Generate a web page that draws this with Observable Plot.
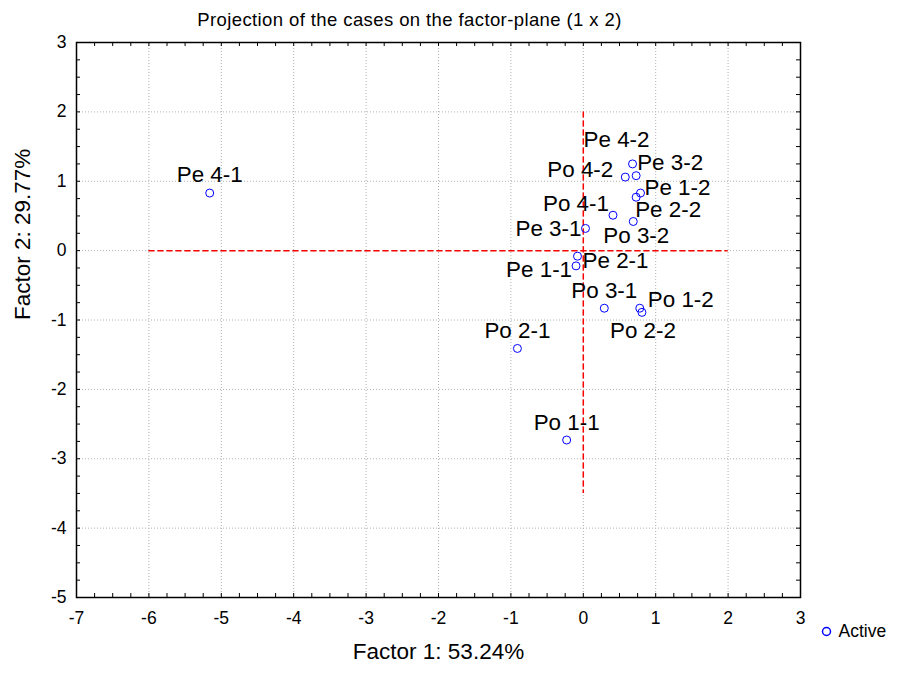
<!DOCTYPE html>
<html>
<head>
<meta charset="utf-8">
<script src="https://cdn.jsdelivr.net/npm/d3@7"></script>
<script src="https://cdn.jsdelivr.net/npm/@observablehq/plot@0.6"></script>
<style>
  html, body { margin: 0; padding: 0; background: #fff; }
  #chart { width: 907px; height: 675px; overflow: hidden; }
</style>
</head>
<body>
<div id="chart"></div>
<script>
// ---- data ----
const caseNames = ["Pe 4-1","Po 1-1","Po 2-1","Pe 4-2","Pe 3-2","Po 4-2","Pe 1-2","Pe 2-2",
                   "Po 4-1","Po 3-2","Pe 3-1","Pe 2-1","Pe 1-1","Po 3-1","Po 1-2","Po 2-2"];
const factor1 = [-5.16,-0.23,-0.91,0.68,0.73,0.58,0.79,0.73,0.41,0.69,0.03,-0.08,-0.10,0.29,0.78,0.81];
const factor2 = [0.83,-2.73,-1.41,1.25,1.08,1.06,0.83,0.77,0.51,0.42,0.32,-0.08,-0.22,-0.83,-0.83,-0.89];
const xTicks = [-7,-6,-5,-4,-3,-2,-1,0,1,2,3];
const yTicks = [-5,-4,-3,-2,-1,0,1,2,3];
const hRefLine = {y: 0, x1: -6, x2: 2};
const vRefLine = {x: 0, y1: 2, y2: -3.5};
const titleText = "Projection of the cases on the factor-plane (1 x 2)";
const xTitle = "Factor 1: 53.24%";
const yTitle = "Factor 2: 29.77%";
const legendLabel = "Active";

// ---- layout (label offsets in pixels, per case) ----
const labelOffsets = [[0,-18],[0,-17],[0,-18],[-16,-24],[34,-13],[-45,-7],[37,-5],[32,13],
                      [-37,-11],[3,14],[-37,0],[38,5],[-37,4],[0,-17],[41,-8],[1,18]];

const cases = caseNames.map((name, i) => ({
  name, x: factor1[i], y: factor2[i], dx: labelOffsets[i][0], dy: labelOffsets[i][1]
}));

const W = 907, H = 675;
const mL = 76, mR = 107, mT = 42, mB = 78;
const innerW = W - mL - mR, innerH = H - mT - mB;
const xMinor = d3.range(-7, 3.0001, 0.25);
const yMinor = d3.range(-5, 3.0001, 0.25);
const FONT = "'Liberation Sans', Arial, Helvetica, sans-serif";

const labelMarks = cases.map(c => Plot.text([c], {
  x: "x", y: "y", text: "name", dx: c.dx, dy: c.dy,
  fontSize: 22.4, fill: "#000", textAnchor: "middle", lineAnchor: "middle"
}));

const chart = Plot.plot({
  width: W, height: H,
  marginLeft: mL, marginRight: mR, marginTop: mT, marginBottom: mB,
  style: {fontFamily: FONT, background: "#fff", overflow: "visible"},
  x: {domain: [-7, 3]},
  y: {domain: [-5, 3]},
  marks: [
    Plot.gridX(xTicks, {stroke: "#b0b0b0", strokeOpacity: 1, strokeDasharray: "1,2"}),
    Plot.gridY(yTicks, {stroke: "#b0b0b0", strokeOpacity: 1, strokeDasharray: "1,2"}),
    // inward ticks on all four sides
    Plot.ruleX(xMinor, {insetTop: innerH - 4, stroke: "#000"}),
    Plot.ruleX(xMinor, {insetBottom: innerH - 4, stroke: "#000"}),
    Plot.ruleY(yMinor, {insetRight: innerW - 4, stroke: "#000"}),
    Plot.ruleY(yMinor, {insetLeft: innerW - 4, stroke: "#000"}),
    Plot.axisX(xTicks, {tickSize: 0, tickPadding: 14, fontSize: 17.5, label: null, tickFormat: d => String(d), fill: "#000"}),
    Plot.axisY(yTicks, {tickSize: 0, tickPadding: 10, fontSize: 17.5, label: null, tickFormat: d => String(d), fill: "#000"}),
    Plot.ruleY([hRefLine], {y: "y", x1: "x1", x2: "x2", stroke: "#ff0000", strokeWidth: 1.5, strokeDasharray: "6,3"}),
    Plot.ruleX([vRefLine], {x: "x", y1: "y1", y2: "y2", stroke: "#ff0000", strokeWidth: 1.5, strokeDasharray: "6,3"}),
    Plot.frame({stroke: "#000", strokeWidth: 1.5}),
    Plot.dot(cases, {x: "x", y: "y", r: 4, stroke: "#0000ff", fill: "none", strokeWidth: 1}),
    ...labelMarks,
    Plot.text([titleText], {frameAnchor: "top", dx: -29, dy: -22, fontSize: 18.5, fill: "#000", lineAnchor: "middle", ariaLabel: "chart-title"}),
    Plot.text([xTitle], {frameAnchor: "bottom", dx: 0, dy: 54, fontSize: 22.5, fill: "#000", lineAnchor: "middle"}),
    Plot.text([yTitle], {frameAnchor: "left", dx: -54, rotate: -90, fontSize: 22.5, fill: "#000", lineAnchor: "middle"}),
    Plot.dot([legendLabel], {frameAnchor: "bottom-right", dx: 26, dy: 34, r: 4, stroke: "#0000ff", fill: "none"}),
    Plot.text([legendLabel], {frameAnchor: "bottom-right", dx: 38, dy: 34, fontSize: 17.5, fill: "#000", textAnchor: "start", lineAnchor: "middle"})
  ]
});
d3.select(chart).selectAll("text").filter(function() { return this.textContent === titleText; })
  .attr("letter-spacing", "0.4").style("letter-spacing", "0.4px");
document.getElementById("chart").appendChild(chart);
</script>
</body>
</html>
